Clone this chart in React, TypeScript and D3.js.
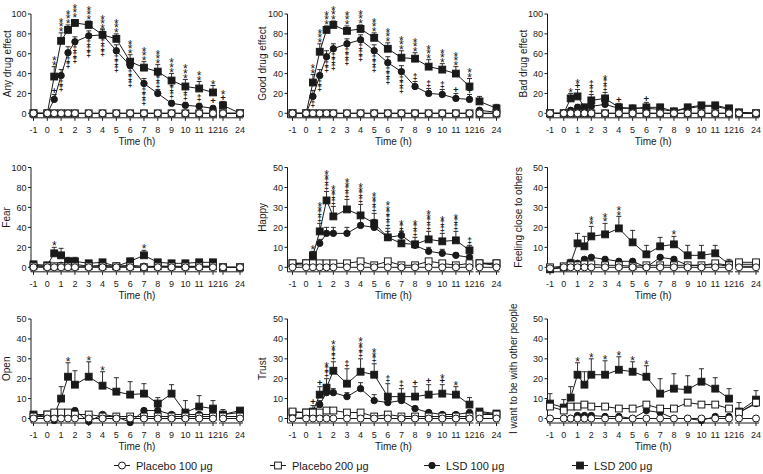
import React from "react";
import * as d3 from "d3";

const TIMES = [-1, 0, 0.5, 1, 1.5, 2, 3, 4, 5, 6, 7, 8, 9, 10, 11, 12, 16, 24];
const TICK_HOURS = [-1, 0, 1, 2, 3, 4, 5, 6, 7, 8, 9, 10, 11, 12, 16, 24];
const SERIES_NAMES = ["Placebo 100 μg", "Placebo 200 μg", "LSD 100 μg", "LSD 200 μg"];
const PANEL_TITLES = [
  "Any drug effect", "Good drug effect", "Bad drug effect",
  "Fear", "Happy", "Feeling close to others",
  "Open", "Trust", "I want to be with other people",
];
const Y_MAX = [100, 100, 100, 100, 50, 50, 50, 50, 50];
const Y_STEP = [20, 20, 20, 20, 10, 10, 10, 10, 10];

const Z = [0, 0, 0, 0, 0, 0, 0, 0, 0, 0, 0, 0, 0, 0, 0, 0, 0, 0];
const E = (s: string) => s.split(",");

// Any drug effect
const anyL200 = [0, 0, 37, 73, 84, 91, 89, 79, 75, 52, 46, 42, 33, 27, 25, 21, 8, 0];
const anyL200e = [0, 0, 10, 8, 5, 3, 4, 5, 5, 7, 6, 7, 7, 7, 7, 7, 4, 0];
const anyL100 = [0, 0, 14, 38, 61, 72, 78, 79, 63, 48, 30, 20, 10, 8, 7, 5, 0, 0];
const anyL100e = [0, 0, 5, 6, 6, 5, 5, 6, 6, 6, 5, 4, 3, 3, 3, 2, 0, 0];
const anySig200 = E(",,**,***,***,***,***,***,***,***,***,***,***,***,**,*,*+,");
const anySig100Below = E(",,,‡‡,‡‡,‡‡‡,‡‡‡,‡‡‡,‡‡‡,‡‡‡,‡‡‡,,,,,,,");
const anySig100Above = E(",,+,,,,,,,,,‡‡‡,‡‡‡,‡‡,‡,+,,");

// Good drug effect
const goodL200 = [0, 0, 31, 62, 84, 89, 83, 85, 76, 65, 56, 55, 47, 44, 40, 27, 12, 5];
const goodL200e = [0, 0, 8, 8, 4, 4, 5, 4, 5, 6, 7, 6, 7, 6, 7, 8, 5, 4];
const goodL100 = [0, 0, 17, 38, 57, 65, 70, 74, 63, 51, 42, 27, 20, 19, 15, 14, 3, 1];
const goodL100e = [0, 0, 6, 6, 6, 5, 5, 5, 6, 6, 6, 5, 5, 5, 5, 5, 2, 1];
const goodSig200 = E(",,**,***,***,***,***,***,***,***,***,***,***,***,***,**,,");
const goodSig100Below = E(",,‡,‡‡,‡‡,‡‡‡,‡‡‡,‡‡‡,‡‡‡,‡‡‡,‡‡‡,,,,,,,");
const goodSig100Above = E(",,,,,,,,,,,‡,‡,‡,+,+,,");

// Bad drug effect
const badL200 = [0, 0, 15, 17, 6, 13, 15, 6, 5, 6, 6, 2, 6, 8, 8, 5, 1, 0];
const badL200e = [0, 0, 5, 7, 3, 6, 6, 4, 3, 5, 3, 2, 3, 3, 3, 2, 1, 0];
const badL100 = [0, 0, 3, 6, 5, 7, 9, 5, 5, 5, 4, 2, 5, 7, 7, 4, 1, 0];
const badL100e = [0, 0, 2, 3, 2, 3, 3, 2, 2, 2, 2, 1, 2, 2, 2, 2, 1, 0];
const badSig200 = E(",,*,*+,,‡‡,*‡‡,+,,+,,,,,,,,");

// Fear
const fearL200 = [3, 2, 14, 12, 6, 6, 4, 5, 1, 6, 12, 5, 4, 4, 5, 5, 0, 0];
const fearL200e = [1, 1, 6, 7, 4, 4, 2, 2, 1, 3, 5, 2, 1, 1, 1, 1, 0, 0];
const fearL100 = [2, 1, 1, 2, 3, 3, 1, 2, 1, 2, 1, 1, 1, 0, 1, 1, 0, 0];
const fearP200 = [1, 1, 1, 1, 1, 1, 1, 1, 1, 1, 0, 1, 1, 1, 1, 1, 0, 0];
const fearSig200 = E(",,*,,,,,,,,*,,,,,,,");

// Happy
const happyL200 = [2, 2, 6, 18, 33.5, 25.5, 29, 26, 22, 15, 12, 11.5, 14, 13, 13.5, 8.5, 2, 2];
const happyL200e = [0.5, 0.5, 2, 4, 4.5, 5, 5, 5.5, 5, 4.5, 3, 3.5, 4, 4, 4.5, 2.5, 0.5, 0.5];
const happyL100 = [1.5, 1, 4, 12, 17, 17, 17, 21, 20, 15, 16, 11, 8, 7, 6, 5, 2, 1];
const happyL100e = [0, 0, 1, 2, 3, 3, 3, 4, 4, 3, 2, 2, 2, 2, 1, 1, 0, 0];
const happyP200 = [2, 2, 2, 2, 2, 2, 2, 3, 1, 3, 1, 1, 3, 2, 1, 2, 2, 2];
const happySig200 = E(",,*,**‡‡,**‡‡,**‡‡,**‡‡,**‡‡,**‡‡,**‡‡‡,*‡‡,*‡‡,**‡‡,*‡‡,*‡‡,‡,,");

// Feeling close to others
const closeL200 = [-1, 0, 2, 12, 10.5, 15.5, 16.5, 19.5, 12.5, 6.5, 10.5, 11.5, 6, 6, 7, 1.5, 1.5, 1.5];
const closeL200e = [0, 0.5, 2, 5, 5, 5, 5.5, 6, 6, 4.5, 4.5, 4, 5, 5, 4, 2.5, 0.5, 0.5];
const closeL100 = [-1, 0, 1, 2, 4, 5, 4, 3, 3, 0, 5, 4, 1, 1, 1.5, 0.5, 0.5, 0.5];
const closeP200 = [0, 0.5, 1, 1, 1.5, 1.5, 1, 1, 0.5, 1, 1, 1, 1, 1, 2, 1, 2.5, 2.5];
const closeP100 = [-0.5, 0, 0, 0, 0, 0, 0, 0, 0, 0, 0, 0, 0, 0, 0, 0, 0, 0];
const closeSig200 = E(",,,,,**,**,**,,,,*,,,,,,");

// Open
const openL200 = [2, 2, 2, 10, 21, 17, 21, 16.5, 13.5, 12, 12.5, 7.5, 12.5, 3, 6, 5, 2, 4];
const openL200e = [0.5, 0.5, 1, 6, 7, 7, 7.5, 7, 7, 6.5, 5, 3, 4.5, 6, 5.5, 4, 2.5, 1];
const openL100 = [1, 1, -1, 2, 3, 4, -1.5, 2, 1, -2, 4, 4, 2, 2, 2, 2, 2, 3];
const openP200 = [1, 2, 3, 3, 3, 2, 2, 1, 1, 1, 1, 1, 1, 1, 1, 1, 1, 1];
const openSig200 = E(",,,,*,,*,*,,,,,,,,,,");

// Trust
const trustL200 = [3, 3, 3.5, 12, 15.5, 24, 17.5, 23.5, 22, 11, 11, 11, 12, 12.5, 12, 7, 3.5, 2.5];
const trustL200e = [0.5, 0.5, 3, 4, 4.5, 4.5, 7.5, 6.5, 5.5, 6.5, 4, 5, 5, 4.5, 4, 3.5, 1, 1];
const trustL100 = [0, 0.5, 3, 7, 13, 13, 11, 15, 9, 8, 9, 5, 3, 2, 2, 3, 3, 2];
const trustL100e = [0, 0, 1, 2, 2, 2, 2, 3, 3, 2, 2, 1, 1, 1, 1, 1, 1, 1];
const trustP200 = [3.5, 3, 3, 3, 4, 4, 3, 3, 1, 2, 1, 1, 1, 1, 1, 1, 2, 2];
const trustSig200 = E(",,+,+,*‡‡,**‡‡,‡,**‡‡,**‡,‡,‡,+,+,*+,*,,,");

// I want to be with other people
const wantL200 = [7.5, 5.5, 10.5, 22, 17, 22, 22, 24.5, 23.5, 21, 12.5, 15, 14.5, 18.5, 15, 10, 3.5, 9.5];
const wantL200e = [5, 4, 5.5, 6, 6.5, 8, 7, 6.5, 5, 5.5, 7.5, 7.5, 7, 6.5, 5.5, 5, 4.5, 4.5];
const wantL100 = [0, 0, 0, 1.5, 1.5, 1.5, 1, 1, 0, 4, 3, 0, 0, -1, 1, 1, 3, 7.5];
const wantP200 = [6, 4, 6, 6, 7, 6, 6, 5, 5, 7, 5, 5, 8, 7, 7, 5, 3, 8];
const wantP200e = [0, 0, 0, 0, 0, 0, 0, 0, 0, 0, 0, 0, 1.5, 1.5, 1, 0, 0, 0];
const wantSig200 = E(",,,*,,*,*,*,*,*,,,,,,,,");

type PanelData = {
  p100: number[]; p200: number[]; l100: number[]; l200: number[];
  e100: number[]; e200: number[]; eP200: number[];
  sig200: string[]; sigBelow: string[]; sigAbove: string[];
};
const NONE = E(",,,,,,,,,,,,,,,,,");
const PANEL_DATA: PanelData[] = [
  { p100: Z, p200: Z, l100: anyL100, l200: anyL200, e100: anyL100e, e200: anyL200e, eP200: Z, sig200: anySig200, sigBelow: anySig100Below, sigAbove: anySig100Above },
  { p100: Z, p200: Z, l100: goodL100, l200: goodL200, e100: goodL100e, e200: goodL200e, eP200: Z, sig200: goodSig200, sigBelow: goodSig100Below, sigAbove: goodSig100Above },
  { p100: Z, p200: Z, l100: badL100, l200: badL200, e100: badL100e, e200: badL200e, eP200: Z, sig200: badSig200, sigBelow: NONE, sigAbove: NONE },
  { p100: Z, p200: fearP200, l100: fearL100, l200: fearL200, e100: Z, e200: fearL200e, eP200: Z, sig200: fearSig200, sigBelow: NONE, sigAbove: NONE },
  { p100: Z, p200: happyP200, l100: happyL100, l200: happyL200, e100: happyL100e, e200: happyL200e, eP200: Z, sig200: happySig200, sigBelow: NONE, sigAbove: NONE },
  { p100: closeP100, p200: closeP200, l100: closeL100, l200: closeL200, e100: Z, e200: closeL200e, eP200: Z, sig200: closeSig200, sigBelow: NONE, sigAbove: NONE },
  { p100: Z, p200: openP200, l100: openL100, l200: openL200, e100: Z, e200: openL200e, eP200: Z, sig200: openSig200, sigBelow: NONE, sigAbove: NONE },
  { p100: Z, p200: trustP200, l100: trustL100, l200: trustL200, e100: trustL100e, e200: trustL200e, eP200: Z, sig200: trustSig200, sigBelow: NONE, sigAbove: NONE },
  { p100: Z, p200: wantP200, l100: wantL100, l200: wantL200, e100: Z, e200: wantL200e, eP200: wantP200e, sig200: wantSig200, sigBelow: NONE, sigAbove: NONE },
];

// Layout
const COLS = [
  { axisX: 31, xm1: 33.5, x12: 213 },
  { axisX: 287.5, xm1: 292.5, x12: 469.5 },
  { axisX: 547.5, xm1: 550, x12: 729 },
];
const ROWS = [
  { top: 14, zero: 113.3 },
  { top: 167.5, zero: 267.3 },
  { top: 319, zero: 418.5 },
];
const TITLE_X = [7, 262, 523, 6, 262, 518, 6, 262, 513];
const FONT = "'Liberation Sans', Arial, Helvetica, sans-serif";
const INK = "#1a1a1a";

const symH = (c: string) => (c === "*" ? 4.6 : c === "‡" ? 5.6 : 5);
const symStyle = (c: string) =>
  c === "*" ? { size: 12, off: 6.9, weight: "normal" } :
  c === "‡" ? { size: 8.5, off: 2.8, weight: "bold" } :
  { size: 9.5, off: 3.3, weight: "bold" };

// One text element per stack of significance symbols
function Stack({ x, yRef, text, down }: { x: number; yRef: number; text: string; down?: boolean }) {
  const chars = Array.from(text);
  const centers: number[] = new Array(chars.length);
  if (!down) {
    let cur = yRef - 1.5;
    for (let i = chars.length - 1; i >= 0; i--) {
      const h = symH(chars[i]);
      centers[i] = cur - h / 2;
      cur -= h;
    }
  } else {
    let cur = yRef + 1.5;
    for (let i = 0; i < chars.length; i++) {
      const h = symH(chars[i]);
      centers[i] = cur + h / 2;
      cur += h;
    }
  }
  return (
    <text textAnchor="middle" fill={INK}>
      {chars.map((c, i) => {
        const st = symStyle(c);
        return (
          <tspan key={i} x={x} y={centers[i] + st.off} fontSize={st.size} fontWeight={st.weight}>{c}</tspan>
        );
      })}
    </text>
  );
}

function Panel({ idx }: { idx: number }) {
  const col = COLS[idx % 3];
  const row = ROWS[Math.floor(idx / 3)];
  const d = PANEL_DATA[idx];
  const yMax = Y_MAX[idx];
  const s1 = d3.scaleLinear().domain([-1, 12]).range([col.xm1, col.x12]);
  const s2 = d3.scaleLinear().domain([16, 24]).range([col.x12 + 10, col.x12 + 27]);
  const xOf = (t: number) => (t <= 12 ? s1(t) : s2(t));
  const y = d3.scaleLinear().domain([0, yMax]).range([row.zero, row.top]);
  const axisY = row.zero + 4.5;
  const yTicks = d3.range(0, yMax + 0.001, Y_STEP[idx]);

  const pathFor = (vals: number[]) => {
    const pts1: [number, number][] = [];
    const pts2: [number, number][] = [];
    TIMES.forEach((t, i) => {
      const p: [number, number] = [xOf(t), y(vals[i])];
      if (t <= 12) pts1.push(p); else pts2.push(p);
    });
    const lg = d3.line();
    return (lg(pts1) || "") + (lg(pts2) || "");
  };

  const errBars = (vals: number[], errs: number[], key: string) =>
    TIMES.map((t, i) => {
      const e = errs[i];
      if (!e || e < 0.6) return null;
      const x = xOf(t);
      const y0 = y(vals[i]);
      const y1 = y(vals[i] + e);
      return (
        <g key={key + i}>
          <line x1={x} x2={x} y1={y0} y2={y1} stroke={INK} strokeWidth={0.9} />
          <line x1={x - 2.5} x2={x + 2.5} y1={y1} y2={y1} stroke={INK} strokeWidth={0.9} />
        </g>
      );
    });

  const squares = (vals: number[], fill: string, key: string) =>
    TIMES.map((t, i) => (
      <rect key={key + i} x={xOf(t) - 3.4} y={y(vals[i]) - 3.4} width={6.8} height={6.8} fill={fill} stroke={INK} strokeWidth={1} />
    ));
  const circles = (vals: number[], fill: string, r: number, key: string) =>
    TIMES.map((t, i) => (
      <circle key={key + i} cx={xOf(t)} cy={y(vals[i])} r={r} fill={fill} stroke={INK} strokeWidth={1} />
    ));

  const midAxis = (col.axisX + s2(24) + 3) / 2;

  return (
    <g fontFamily={FONT}>
      <line x1={col.axisX} x2={col.axisX} y1={row.top} y2={axisY} stroke={INK} strokeWidth={1} />
      {yTicks.map((v) => (
        <g key={"yt" + v}>
          <line x1={col.axisX - 3} x2={col.axisX} y1={y(v)} y2={y(v)} stroke={INK} strokeWidth={1} />
          <text x={col.axisX - 4.5} y={y(v) + 3.2} fontSize={9} textAnchor="end" fill={INK}>{v}</text>
        </g>
      ))}
      <text
        transform={`translate(${TITLE_X[idx]},${(row.top + row.zero) / 2}) rotate(-90)`}
        textAnchor="middle" dy="0.35em" fontSize={10} fill={INK}
      >{PANEL_TITLES[idx]}</text>
      <line x1={col.axisX} x2={s1(12) + 4} y1={axisY} y2={axisY} stroke={INK} strokeWidth={1} />
      <line x1={s2(16) - 4} x2={s2(24) + 3} y1={axisY} y2={axisY} stroke={INK} strokeWidth={1} />
      {TICK_HOURS.map((h) => (
        <g key={"xt" + h}>
          <line x1={xOf(h)} x2={xOf(h)} y1={axisY} y2={axisY + 3} stroke={INK} strokeWidth={1} />
          <text x={xOf(h)} y={row.zero + 19.5} fontSize={9} textAnchor="middle" fill={INK}>{h}</text>
        </g>
      ))}
      <text x={midAxis} y={row.zero + 31.5} fontSize={10} textAnchor="middle" fill={INK}>Time (h)</text>

      {errBars(d.l200, d.e200, "e2")}
      {errBars(d.l100, d.e100, "e1")}
      {errBars(d.p200, d.eP200, "ep")}
      <path d={pathFor(d.l200)} fill="none" stroke={INK} strokeWidth={1} />
      <path d={pathFor(d.l100)} fill="none" stroke={INK} strokeWidth={1} />
      <path d={pathFor(d.p200)} fill="none" stroke={INK} strokeWidth={1} />
      <path d={pathFor(d.p100)} fill="none" stroke={INK} strokeWidth={1} />
      {squares(d.l200, INK, "m2")}
      {circles(d.l100, INK, 3.2, "m1")}
      {squares(d.p200, "#fff", "mp2")}
      {circles(d.p100, "#fff", 3.5, "mp1")}
      {TIMES.map((t, i) =>
        d.sig200[i] ? (
          <Stack key={"s2" + i} x={xOf(t)} yRef={Math.min(y(d.l200[i] + (d.e200[i] || 0)), y(d.l200[i]) - 4)} text={d.sig200[i]} />
        ) : null
      )}
      {TIMES.map((t, i) =>
        d.sigAbove[i] ? (
          <Stack key={"sa" + i} x={xOf(t)} yRef={Math.min(y(d.l100[i] + (d.e100[i] || 0)), y(d.l100[i]) - 4)} text={d.sigAbove[i]} />
        ) : null
      )}
      {TIMES.map((t, i) =>
        d.sigBelow[i] ? (
          <Stack key={"sb" + i} x={xOf(t)} yRef={y(d.l100[i]) + 3} text={d.sigBelow[i]} down />
        ) : null
      )}
    </g>
  );
}

const LEGEND_X = [122, 278, 432, 580];

export default function App() {
  return (
    <svg width={763} height={474} style={{ position: "absolute", left: 0, top: 0, background: "#fff" }}>
      <rect width={763} height={474} fill="#fff" />
      {PANEL_TITLES.map((_, i) => <Panel key={i} idx={i} />)}
      <g fontFamily={FONT}>
        {SERIES_NAMES.map((name, i) => {
          const mx = LEGEND_X[i];
          const cy = 465.5;
          const filled = i >= 2;
          const isSquare = i % 2 === 1;
          return (
            <g key={name}>
              <line x1={mx - 8} x2={mx + 8} y1={cy} y2={cy} stroke={INK} strokeWidth={1} />
              {isSquare ? (
                <rect x={mx - 3.4} y={cy - 3.4} width={6.8} height={6.8} fill={filled ? INK : "#fff"} stroke={INK} />
              ) : (
                <circle cx={mx} cy={cy} r={filled ? 3.2 : 3.5} fill={filled ? INK : "#fff"} stroke={INK} />
              )}
              <text x={mx + 14} y={cy + 4} fontSize={11} fill={INK}>{name}</text>
            </g>
          );
        })}
      </g>
    </svg>
  );
}
